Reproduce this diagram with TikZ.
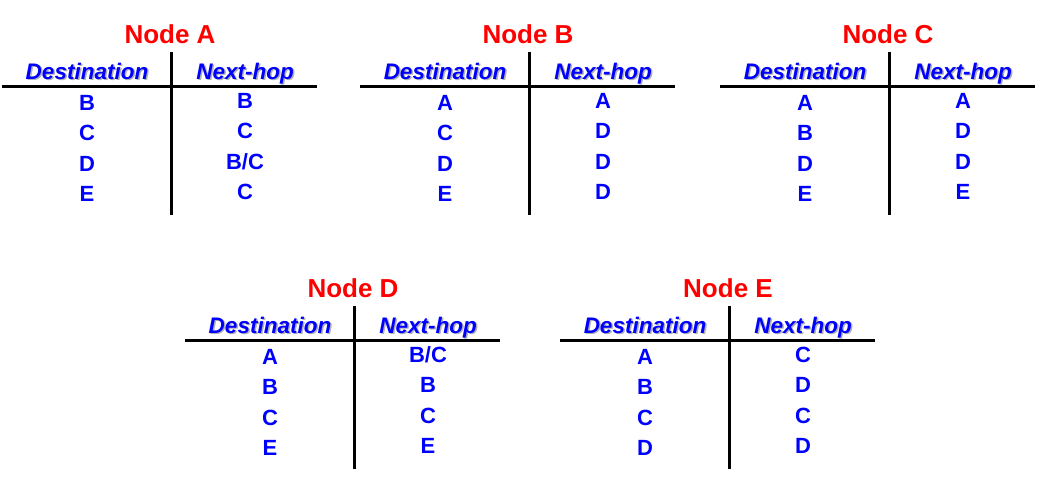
\documentclass[tikz,border=0pt]{standalone}
\usepackage{fontspec}
\setmainfont{Liberation Sans}
\begin{document}
\begin{tikzpicture}[x=1pt,y=-1pt,
		title/.style={anchor=base,text=red,font=\fontsize{26}{28}\selectfont\bfseries},
		head/.style={anchor=base,text=blue,font=\fontsize{22.5}{24}\selectfont\bfseries\itshape},
		headshadow/.style={head,text=black!30},
		entry/.style={anchor=base,text=blue,font=\fontsize{22}{24}\selectfont\bfseries},
		rule/.style={line width=3pt}]
		\useasboundingbox (0,0) rectangle (1038,477);
		
		% Node A
		\begin{scope}[shift={(2,0)}]
			\node[title] (tA) at (168,43) {Node A};
			\node[headshadow] at (86.5,80.5) {Destination};
			\node[headshadow] at (244.5,80.5) {Next-hop};
			\node[head] (dA) at (85,79) {Destination};
			\node[head] (hA) at (243,79) {Next-hop};
			\draw[rule] (0,86) -- (315,86);
			\draw[rule] (169,52) -- (169,215);
			\foreach \d/\h [count=\i] in {B/B,C/C,D/{B/C},E/C}{
				\node[entry] (dA\i) at (85,{79.5+30.5*\i}) {\d};
				\node[entry] (hA\i) at (243,{77.5+30.5*\i}) {\h};
			}
		\end{scope}
		
		% Node B
		\begin{scope}[shift={(360,0)}]
			\node[title] (tB) at (168,43) {Node B};
			\node[headshadow] at (86.5,80.5) {Destination};
			\node[headshadow] at (244.5,80.5) {Next-hop};
			\node[head] (dB) at (85,79) {Destination};
			\node[head] (hB) at (243,79) {Next-hop};
			\draw[rule] (0,86) -- (315,86);
			\draw[rule] (169,52) -- (169,215);
			\foreach \d/\h [count=\i] in {A/A,C/D,D/D,E/D}{
				\node[entry] (dB\i) at (85,{79.5+30.5*\i}) {\d};
				\node[entry] (hB\i) at (243,{77.5+30.5*\i}) {\h};
			}
		\end{scope}
		
		% Node C
		\begin{scope}[shift={(720,0)}]
			\node[title] (tC) at (168,43) {Node C};
			\node[headshadow] at (86.5,80.5) {Destination};
			\node[headshadow] at (244.5,80.5) {Next-hop};
			\node[head] (dC) at (85,79) {Destination};
			\node[head] (hC) at (243,79) {Next-hop};
			\draw[rule] (0,86) -- (315,86);
			\draw[rule] (169,52) -- (169,215);
			\foreach \d/\h [count=\i] in {A/A,B/D,D/D,E/E}{
				\node[entry] (dC\i) at (85,{79.5+30.5*\i}) {\d};
				\node[entry] (hC\i) at (243,{77.5+30.5*\i}) {\h};
			}
		\end{scope}
		
		% Node D
		\begin{scope}[shift={(185,254)}]
			\node[title] (tD) at (168,43) {Node D};
			\node[headshadow] at (86.5,80.5) {Destination};
			\node[headshadow] at (244.5,80.5) {Next-hop};
			\node[head] (dD) at (85,79) {Destination};
			\node[head] (hD) at (243,79) {Next-hop};
			\draw[rule] (0,86) -- (315,86);
			\draw[rule] (169,52) -- (169,215);
			\foreach \d/\h [count=\i] in {A/{B/C},B/B,C/C,E/E}{
				\node[entry] (dD\i) at (85,{79.5+30.5*\i}) {\d};
				\node[entry] (hD\i) at (243,{77.5+30.5*\i}) {\h};
			}
		\end{scope}
		
		% Node E
		\begin{scope}[shift={(560,254)}]
			\node[title] (tE) at (168,43) {Node E};
			\node[headshadow] at (86.5,80.5) {Destination};
			\node[headshadow] at (244.5,80.5) {Next-hop};
			\node[head] (dE) at (85,79) {Destination};
			\node[head] (hE) at (243,79) {Next-hop};
			\draw[rule] (0,86) -- (315,86);
			\draw[rule] (169,52) -- (169,215);
			\foreach \d/\h [count=\i] in {A/C,B/D,C/C,D/D}{
				\node[entry] (dE\i) at (85,{79.5+30.5*\i}) {\d};
				\node[entry] (hE\i) at (243,{77.5+30.5*\i}) {\h};
			}
		\end{scope}
	\end{tikzpicture}
\end{document}
